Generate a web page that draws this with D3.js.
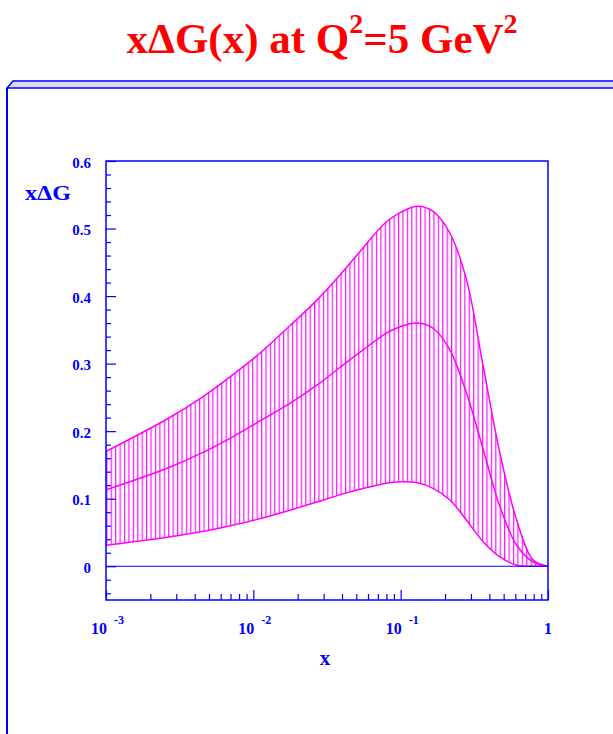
<!DOCTYPE html>
<html>
<head>
<meta charset="utf-8">
<script src="https://cdn.jsdelivr.net/npm/d3@7"></script>
<style>
  body { margin: 0; background: #fff; }
  svg { display: block; }
  text { font-family: "Liberation Serif", "Times New Roman", serif; font-weight: bold; }
</style>
</head>
<body>
<svg width="613" height="734"></svg>
<script>
// x values (log scale) and the three curves
var xs      = [0.001, 0.0026, 0.0044, 0.0073, 0.0105, 0.0177, 0.027, 0.039, 0.053, 0.08, 0.1, 0.13, 0.167, 0.216, 0.28, 0.364, 0.472, 0.613, 0.795, 1.0]
var upper   = [0.170, 0.218, 0.249, 0.284, 0.311, 0.356, 0.394, 0.432, 0.466, 0.510, 0.524, 0.533, 0.525, 0.493, 0.424, 0.295, 0.167, 0.068, 0.009, 0.0]
var central = [0.113, 0.145, 0.167, 0.192, 0.212, 0.241, 0.268, 0.295, 0.317, 0.345, 0.355, 0.360, 0.352, 0.320, 0.256, 0.172, 0.088, 0.031, 0.006, 0.0]
var lower   = [0.031, 0.043, 0.051, 0.061, 0.069, 0.083, 0.095, 0.106, 0.114, 0.123, 0.125, 0.1235, 0.115, 0.098, 0.068, 0.036, 0.0138, 0.0015, 0.0, 0.0]

var yMajor = [0, 0.1, 0.2, 0.3, 0.4, 0.5, 0.6]
var xMajor = [0.001, 0.01, 0.1, 1]
var xLabels = [["10", "-3"], ["10", "-2"], ["10", "-1"], ["1", ""]]

var blue = "#0000ff", mag = "#ff00ff"

var svg = d3.select("svg")

// title
var title = svg.append("text")
  .attr("x", 322).attr("y", 53)
  .attr("text-anchor", "middle")
  .attr("fill", "#ff0000")
  .style("font-size", "43px")
title.append("tspan").text("x\u0394G(x) at Q")
title.append("tspan").attr("dy", -20).style("font-size", "28px").text("2")
title.append("tspan").attr("dy", 20).text("=5 GeV")
title.append("tspan").attr("dy", -20).style("font-size", "28px").text("2")

// outer frame with bevel on top
svg.append("path")
  .attr("d", "M13,81 L620,81 L620,88 L7,88 Z")
  .attr("fill", "#dcdcff").attr("stroke", blue).attr("stroke-width", 1.5)
svg.append("line")
  .attr("x1", 7).attr("y1", 88).attr("x2", 7).attr("y2", 740)
  .attr("stroke", blue).attr("stroke-width", 2)

var L = 106, R = 548, T = 161, B = 600

var x = d3.scaleLog().domain([0.001, 1]).range([L, R])
var y = d3.scaleLinear().domain([-0.05, 0.6]).range([B, T])

var pts = xs.map(function(d, i){ return {x: d, u: upper[i], c: central[i], l: lower[i]} })

// hatching pattern
var defs = svg.append("defs")
var pw = (R - L) / 100
var pat = defs.append("pattern")
  .attr("id", "hatch")
  .attr("patternUnits", "userSpaceOnUse")
  .attr("x", L + 0.3).attr("y", 0)
  .attr("width", pw).attr("height", 20)
pat.append("line")
  .attr("x1", 0.6).attr("x2", 0.6).attr("y1", 0).attr("y2", 20)
  .attr("stroke", mag).attr("stroke-width", 1.1)

var area = d3.area()
  .x(function(d){ return x(d.x) })
  .y0(function(d){ return y(d.l) })
  .y1(function(d){ return y(d.u) })
  .curve(d3.curveCatmullRom)

svg.append("path")
  .attr("d", area(pts))
  .attr("fill", "url(#hatch)")

function lineOf(key){
  return d3.line()
    .x(function(d){ return x(d.x) })
    .y(function(d){ return y(d[key]) })
    .curve(d3.curveCatmullRom)
}

;["u", "c", "l"].forEach(function(k){
  svg.append("path")
    .attr("d", lineOf(k)(pts))
    .attr("fill", "none")
    .attr("stroke", mag)
    .attr("stroke-width", 1.5)
})

// zero line
svg.append("line")
  .attr("x1", L).attr("x2", R).attr("y1", y(0)).attr("y2", y(0))
  .attr("stroke", blue).attr("stroke-width", 1.2)

// plot frame
svg.append("rect")
  .attr("x", L).attr("y", T).attr("width", R - L).attr("height", B - T)
  .attr("fill", "none").attr("stroke", blue).attr("stroke-width", 1.5)

// y ticks (inward)
var yMinor = d3.range(-0.04, 0.6, 0.02).filter(function(v){ return Math.abs(Math.round(v*10) - v*10) > 0.01 })
var yAx = svg.append("g").attr("transform", "translate(" + L + ",0)")
yAx.call(d3.axisLeft(y).tickValues(yMinor).tickSize(-5).tickFormat(""))
yAx.append("g").call(d3.axisLeft(y).tickValues(yMajor).tickSize(-10).tickPadding(15)
  .tickFormat(function(d){ return d === 0 ? "0" : d.toFixed(1) }))
yAx.selectAll(".domain").remove()
yAx.selectAll("line").attr("stroke", blue).attr("stroke-width", 1.2)
yAx.selectAll("text").attr("fill", blue).attr("dy", "0.4em")
  .style("font-size", "15px").style("font-family", "Liberation Serif, serif").style("font-weight", "bold")

// x ticks (inward)
var xMinor = []
;[0.001, 0.01, 0.1].forEach(function(dec){
  for (var k = 2; k <= 9; k++) xMinor.push(dec * k)
})
var xAx = svg.append("g").attr("transform", "translate(0," + B + ")")
xAx.call(d3.axisBottom(x).tickValues(xMinor).tickSize(-6).tickFormat(""))
xAx.append("g").call(d3.axisBottom(x).tickValues(xMajor).tickSize(-10).tickFormat(""))
xAx.selectAll(".domain").remove()
xAx.selectAll("line").attr("stroke", blue).attr("stroke-width", 1.2)

// x tick labels with exponents
xMajor.forEach(function(v, i){
  var lab = xLabels[i]
  var t = svg.append("text")
    .attr("y", 634)
    .attr("fill", blue)
    .style("font-size", "16px")
  if (lab[1] === "") {
    t.attr("x", x(v)).attr("text-anchor", "middle").text(lab[0])
  } else {
    t.attr("x", x(v) - 15).attr("text-anchor", "start")
    t.append("tspan").text(lab[0])
    t.append("tspan").attr("dx", 7).attr("dy", -10).style("font-size", "12px").text(lab[1])
  }
})

// axis titles
svg.append("text").attr("x", 325).attr("y", 665).attr("text-anchor", "middle")
  .attr("fill", blue).style("font-size", "21px").text("x")
svg.append("text").attr("x", 25).attr("y", 200)
  .attr("fill", blue).style("font-size", "21px")
  .attr("textLength", 46).attr("lengthAdjust", "spacingAndGlyphs")
  .text("x\u0394G")
</script>
</body>
</html>
